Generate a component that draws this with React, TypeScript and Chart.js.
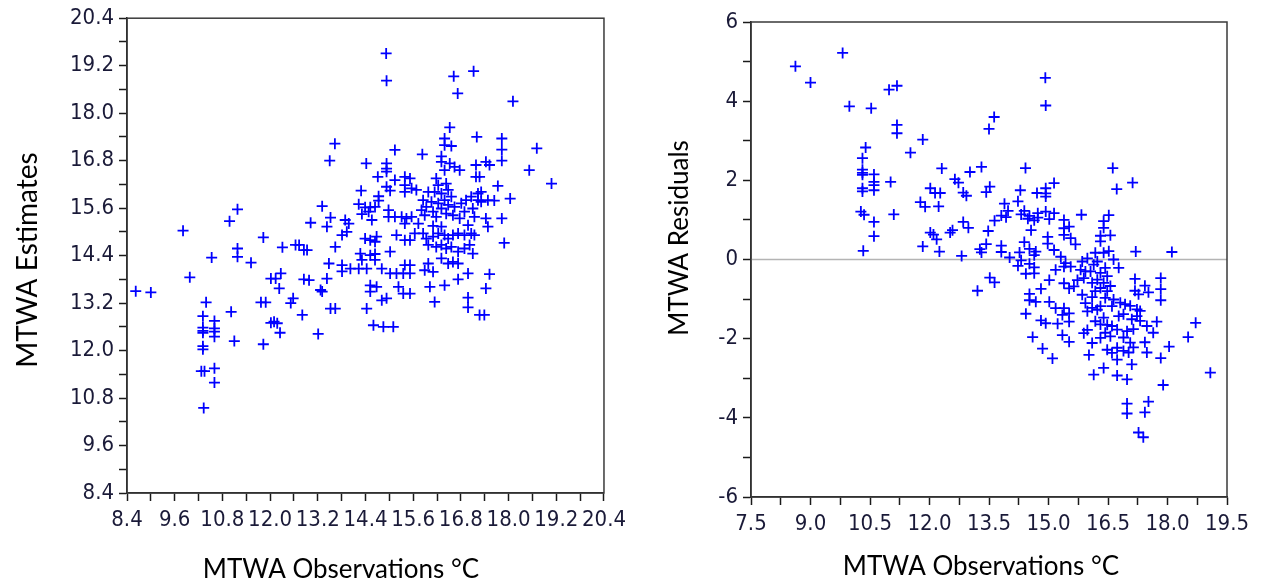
import React, { useEffect, useRef } from "react";
import { Chart, registerables } from "chart.js";

Chart.register(...registerables);

// MTWA observations (°C), shared by both panels
const observations = [
  14.92, 14.93, 16.62, 17.12, 16.72, 18.11,
  11.18, 10.98, 9.81, 11.83, 8.62, 9.0, 9.98, 10.53, 10.39, 10.31, 10.31, 10.31, 10.31, 10.6, 10.6, 10.6, 10.6, 10.31, 10.31, 10.27, 10.35, 10.6, 10.6, 10.33, 11.02, 11.1, 11.18, 11.18, 11.52, 11.77, 11.89, 11.83, 12.02, 12.14, 12.27, 12.23, 12.02, 12.1, 12.18, 12.25, 12.31,
  13.63, 13.5, 15.14, 14.42, 14.93, 14.93, 14.93, 14.71, 15.14, 15.39, 15.39, 15.39, 14.29, 14.93, 15.02, 14.73, 14.73, 13.31, 14.23, 14.39, 14.52, 14.64, 14.31, 14.48, 13.52, 13.02, 13.43, 13.89, 13.98, 14.98, 14.98, 15.14, 14.56, 15.31, 15.43, 15.39,
  16.52, 16.39, 16.39, 16.56, 17.2, 17.83, 17.83, 17.83, 18.71, 15.83, 16.31, 16.31, 16.52, 16.39, 16.64, 16.77, 17.18, 17.43, 17.52, 17.18, 17.27, 18.52, 19.08, 17.73, 18.04, 17.64, 15.52, 15.56, 15.68, 16.18, 16.23, 16.43, 15.98, 16.14, 16.31, 16.48, 16.56, 15.85, 15.93, 16.06, 16.23, 16.39, 16.48, 16.64, 16.81, 16.93, 17.06, 17.23, 17.31, 17.23, 17.31, 17.48, 15.81, 15.89, 16.1, 16.18, 16.31, 16.43, 16.6, 16.77, 16.89, 17.1, 17.14, 17.43, 17.83, 15.56, 15.73, 16.1, 16.31, 16.98, 17.48,
  12.73, 12.85, 12.93, 12.64, 13.64, 13.81, 13.93, 14.39, 14.52, 14.64, 14.68, 14.27, 14.31, 14.52, 14.64, 14.64, 15.02, 15.18, 15.39, 13.48, 13.81, 13.81, 14.02, 14.23, 14.43, 14.81, 15.02, 15.18, 15.35, 15.39, 13.43, 12.85, 12.98, 13.27, 13.31, 12.58, 12.52, 12.81, 13.52, 13.64, 14.43, 14.52, 14.68, 14.52, 14.81, 14.93, 15.23, 15.35, 14.6, 14.85, 15.1, 13.21,
  15.52, 17.89, 15.64, 15.85, 15.93, 16.1, 16.23, 16.39, 16.48, 16.6, 16.73, 16.89, 17.06, 17.14, 15.98, 16.18, 16.31, 16.43, 16.56, 16.73, 16.89, 17.02, 17.1, 16.31, 16.48, 16.6, 16.73, 15.98, 15.89, 16.1, 16.98, 17.52, 16.73, 16.39, 16.02, 17.43, 16.98, 16.98, 16.14, 17.27, 17.39, 15.52, 15.52, 15.52,
];

// MTWA estimates (left panel y values)
const estimates = [
  19.51, 18.82, 18.93, 19.06, 18.5, 18.3,
  15.57, 15.27, 15.03, 14.86, 13.5, 13.47, 13.85, 14.35, 13.22, 12.87, 12.58, 12.5, 12.45, 12.75, 12.56, 12.48, 12.35, 12.11, 12.03, 11.48, 11.48, 11.55, 11.19, 10.55, 12.98, 12.24, 14.58, 14.37, 14.22, 13.22, 13.22, 12.16, 13.82, 13.82, 13.95, 13.57, 12.7, 12.73, 12.69, 12.45, 14.61,
  17.23, 16.8, 17.07, 16.73, 16.73, 16.6, 16.52, 16.39, 16.31, 16.39, 16.18, 16.01, 16.04, 16.14, 16.04, 15.9, 15.79, 15.65, 15.7, 15.62, 15.62, 15.63, 15.45, 15.51, 15.36, 15.23, 15.13, 15.3, 15.21, 15.55, 15.38, 15.38, 15.3, 15.38, 15.34, 15.21,
  17.64, 17.36, 17.19, 17.17, 17.4, 17.36, 17.08, 16.8, 17.11, 16.96, 16.91, 16.77, 16.73, 16.56, 16.64, 16.56, 16.69, 16.77, 16.69, 16.39, 16.39, 16.56, 16.22, 16.16, 15.84, 15.79, 16.35, 16.1, 16.06, 16.35, 16.18, 16.22, 16.01, 16.01, 15.97, 16.06, 15.89, 15.8, 15.63, 15.76, 15.72, 15.8, 15.68, 15.63, 15.72, 15.8, 15.89, 15.97, 16.01, 15.8, 15.76, 15.8, 15.55, 15.42, 15.51, 15.38, 15.59, 15.46, 15.42, 15.34, 15.51, 15.59, 15.38, 15.34, 15.34, 15.38, 15.21, 15.15, 15.13, 15.17, 15.13,
  14.67, 14.54, 14.54, 14.67, 14.62, 14.92, 15.0, 14.83, 14.79, 14.75, 14.88, 14.45, 14.29, 14.41, 14.44, 14.29, 14.5, 14.92, 14.79, 14.2, 14.16, 14.0, 14.07, 14.07, 14.07, 14.07, 13.95, 13.95, 13.95, 14.16, 13.82, 13.8, 13.78, 13.53, 13.49, 13.32, 13.2, 12.9, 13.06, 13.06, 13.06, 13.65, 13.61, 13.49, 13.27, 13.32, 13.61, 13.44, 12.64, 12.6, 12.6, 12.42,
  14.79, 14.72, 14.96, 14.96, 14.83, 14.88, 14.96, 14.92, 14.83, 14.92, 14.96, 14.92, 14.96, 14.92, 14.67, 14.62, 14.67, 14.58, 14.62, 14.5, 14.58, 14.67, 14.45, 14.33, 14.2, 14.24, 14.2, 14.2, 14.03, 13.99, 13.95, 13.93, 13.8, 13.65, 13.61, 13.57, 13.34, 13.09, 13.23, 12.9, 12.9, 14.16, 13.95, 13.44,
];

// MTWA residuals (right panel y values)
const residuals = [
  4.59, 3.89, 2.31, 1.94, 1.78, 0.19,
  4.39, 4.29, 5.22, 3.03, 4.88, 4.47, 3.87, 3.82, 2.83, 2.56, 2.27, 2.19, 2.14, 2.15, 1.96, 1.88, 1.75, 1.8, 1.72, 1.21, 1.13, 0.95, 0.59, 0.22, 1.96, 1.14, 3.4, 3.19, 2.7, 1.45, 1.33, 0.33, 1.8, 1.68, 1.68, 1.34, 0.68, 0.63, 0.51, 0.2, 2.3,
  3.6, 3.3, 1.93, 2.31, 1.8, 1.67, 1.59, 1.68, 1.17, 1.0, 0.79, 0.62, 1.75, 1.21, 1.02, 1.17, 1.06, 2.34, 1.47, 1.23, 1.1, 0.99, 1.14, 1.03, 1.84, 2.21, 1.7, 1.41, 1.23, 0.57, 0.4, 0.24, 0.74, 0.07, -0.09, -0.18,
  1.12, 0.97, 0.8, 0.61, 0.2, -0.47, -0.75, -1.03, -1.6, 1.13, 0.6, 0.46, 0.21, 0.17, 0.0, -0.21, -0.49, -0.66, -0.83, -0.79, -0.88, -1.96, -2.86, -1.57, -2.2, -1.85, 0.83, 0.54, 0.38, 0.17, -0.05, -0.21, 0.03, -0.13, -0.34, -0.42, -0.67, -0.05, -0.3, -0.3, -0.51, -0.59, -0.8, -1.01, -1.09, -1.13, -1.17, -1.26, -1.3, -1.43, -1.55, -1.68, -0.26, -0.47, -0.59, -0.8, -0.72, -0.97, -1.18, -1.43, -1.38, -1.51, -1.76, -2.09, -2.49, -0.18, -0.52, -0.95, -1.18, -1.81, -2.35,
  1.94, 1.69, 1.61, 2.03, 0.98, 1.11, 1.07, 0.44, 0.27, 0.11, 0.2, 0.18, -0.02, -0.11, -0.2, -0.35, -0.52, -0.26, -0.6, 0.72, 0.35, 0.19, 0.05, -0.16, -0.36, -0.74, -1.07, -1.23, -1.4, -1.23, 0.39, 0.95, 0.8, 0.26, 0.18, 0.74, 0.68, 0.09, -0.46, -0.58, -1.37, -0.87, -1.07, -1.03, -1.54, -1.61, -1.62, -1.91, -1.96, -2.25, -2.5, -0.79,
  -0.73, -3.17, -0.68, -0.89, -1.1, -1.22, -1.27, -1.47, -1.65, -1.68, -1.77, -1.97, -2.1, -2.22, -1.31, -1.56, -1.64, -1.85, -1.94, -2.23, -2.31, -2.35, -2.65, -1.98, -2.28, -2.36, -2.53, -1.78, -1.86, -2.11, -3.03, -3.59, -2.93, -2.74, -2.41, -3.86, -3.64, -3.89, -2.91, -4.37, -4.49, -1.36, -1.57, -2.08,
];

// Labelled ticks
const leftXTickLabels = ["8.4", "9.6", "10.8", "12.0", "13.2", "14.4", "15.6", "16.8", "18.0", "19.2", "20.4"];
const leftYTickLabels = ["8.4", "9.6", "10.8", "12.0", "13.2", "14.4", "15.6", "16.8", "18.0", "19.2", "20.4"];
const rightXTickLabels = ["7.5", "9.0", "10.5", "12.0", "13.5", "15.0", "16.5", "18.0", "19.5"];
const rightYTickLabels = ["-6", "-4", "-2", "0", "2", "4", "6"];

const leftTitles = { y: "MTWA Estimates", x: "MTWA Observations °C" };
const rightTitles = { y: "MTWA Residuals", x: "MTWA Observations °C" };

const TICK_FONT = "'Liberation Sans Narrow', 'Arial Narrow', 'DejaVu Sans Condensed', sans-serif";
const TITLE_FONT = "Lato, 'Open Sans', sans-serif";
const TICK_COLOR = "#1a1a38";
const AXIS_COLOR = "#1a1a1a";

function buildScale(labels: string[], axis: "x" | "y", fit: number) {
  const vals = labels.map(Number);
  const all: number[] = [];
  vals.forEach((v, i) => {
    all.push(v);
    if (i < vals.length - 1) all.push((v + vals[i + 1]) / 2);
  });
  return {
    type: "linear",
    position: axis === "x" ? "bottom" : "left",
    min: vals[0],
    max: vals[vals.length - 1],
    afterBuildTicks: (scale: any) => {
      scale.ticks = all.map((v) => ({ value: v }));
    },
    afterFit: (scale: any) => {
      if (axis === "x") scale.height = fit;
      else scale.width = fit;
    },
    ticks: {
      autoSkip: false,
      maxRotation: 0,
      minRotation: 0,
      padding: axis === "x" ? 6 : 5,
      color: TICK_COLOR,
      font: { family: TICK_FONT, size: 22 },
      callback: (value: any) => {
        const idx = vals.findIndex((v) => Math.abs(v - Number(value)) < 1e-6);
        return idx >= 0 ? labels[idx] : "";
      },
    },
    grid: {
      display: true,
      drawOnChartArea: false,
      drawTicks: true,
      tickLength: 8,
      tickWidth: 1.5,
      tickColor: AXIS_COLOR,
    },
    border: { display: true, color: AXIS_COLOR, width: 1.5 },
    title: { display: false },
  };
}

const framePlugin = {
  id: "frame",
  beforeDatasetsDraw(chart: any, _args: any, opts: any) {
    const { ctx, chartArea: a } = chart;
    if (opts.zeroLine) {
      const y = chart.scales.y.getPixelForValue(0);
      ctx.save();
      ctx.strokeStyle = "#b4b4b4";
      ctx.lineWidth = 1.5;
      ctx.beginPath();
      ctx.moveTo(a.left, y);
      ctx.lineTo(a.right, y);
      ctx.stroke();
      ctx.restore();
    }
  },
  afterDraw(chart: any, _args: any, opts: any) {
    const { ctx, chartArea: a } = chart;
    ctx.save();
    ctx.strokeStyle = "#3a3a3a";
    ctx.lineWidth = 1.5;
    ctx.strokeRect(a.left, a.top, a.right - a.left, a.bottom - a.top);
    ctx.fillStyle = "#000";
    ctx.textAlign = "center";
    ctx.textBaseline = "middle";
    ctx.font = `${opts.xTitleSize}px ${TITLE_FONT}`;
    ctx.fillText(opts.xTitle, opts.xTitlePos[0], opts.xTitlePos[1]);
    ctx.font = `${opts.yTitleSize}px ${TITLE_FONT}`;
    ctx.translate(opts.yTitlePos[0], opts.yTitlePos[1]);
    ctx.rotate(-Math.PI / 2);
    ctx.fillText(opts.yTitle, 0, 0);
    ctx.restore();
  },
};

type PanelProps = {
  xs: number[];
  ys: number[];
  xLabels: string[];
  yLabels: string[];
  yFit: number;
  xFit: number;
  padding: { left: number; right: number; top: number; bottom: number };
  frame: any;
  left: number;
};

function ScatterPanel(props: PanelProps) {
  const ref = useRef<HTMLCanvasElement | null>(null);
  useEffect(() => {
    if (!ref.current) return;
    const points = props.xs.map((x, i) => ({ x, y: props.ys[i] }));
    const chart = new Chart(ref.current, {
      type: "scatter",
      data: {
        datasets: [
          {
            data: points,
            pointStyle: "cross",
            pointRadius: 5.5,
            pointHoverRadius: 5.5,
            pointBorderWidth: 1.8,
            pointBorderColor: "#0000ff",
            pointBackgroundColor: "#0000ff",
          },
        ],
      },
      options: {
        animation: false,
        responsive: false,
        devicePixelRatio: 1,
        layout: { padding: props.padding },
        plugins: {
          legend: { display: false },
          tooltip: { enabled: false },
          frame: props.frame,
        } as any,
        scales: {
          x: buildScale(props.xLabels, "x", props.xFit) as any,
          y: buildScale(props.yLabels, "y", props.yFit) as any,
        },
      },
      plugins: [framePlugin],
    });
    return () => chart.destroy();
  }, []);
  return (
    <canvas
      ref={ref}
      width={632}
      height={585}
      style={{ position: "absolute", left: props.left, top: 0, width: 632, height: 585 }}
    />
  );
}

export default function App() {
  return (
    <div style={{ position: "fixed", left: 0, top: 0, width: 1264, height: 585, background: "#fff" }}>
      <ScatterPanel
        xs={observations}
        ys={estimates}
        xLabels={leftXTickLabels}
        yLabels={leftYTickLabels}
        yFit={127}
        xFit={92}
        padding={{ left: 0, right: 25, top: 18, bottom: 0 }}
        left={0}
        frame={{ zeroLine: false, xTitleSize: 26, yTitleSize: 28, xTitle: leftTitles.x, yTitle: leftTitles.y, xTitlePos: [341, 570], yTitlePos: [28, 260] }}
      />
      <ScatterPanel
        xs={observations}
        ys={residuals}
        xLabels={rightXTickLabels}
        yLabels={rightYTickLabels}
        yFit={119}
        xFit={88}
        padding={{ left: 0, right: 37, top: 22, bottom: 0 }}
        left={632}
        frame={{ zeroLine: true, xTitleSize: 26, yTitleSize: 26, xTitle: rightTitles.x, yTitle: rightTitles.y, xTitlePos: [349, 567], yTitlePos: [48, 238] }}
      />
    </div>
  );
}
